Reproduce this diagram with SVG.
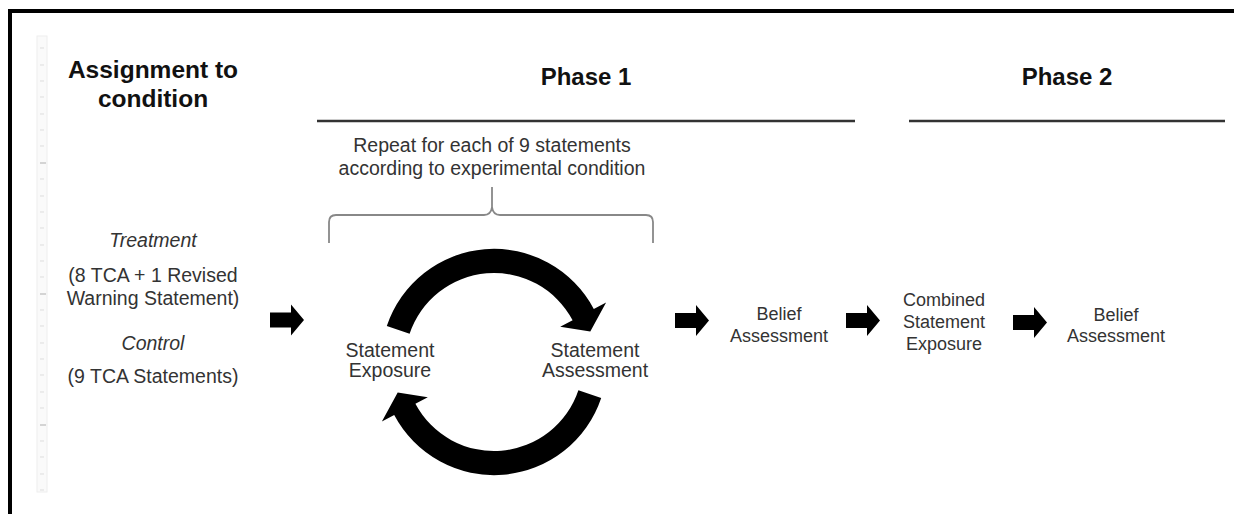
<svg xmlns="http://www.w3.org/2000/svg" width="1234" height="514" viewBox="0 0 1234 514">
  <style>
    .head { font-family: "Liberation Sans", Arial, sans-serif; font-weight: bold; fill: #111; text-anchor: middle; }
    .lbl { font-family: "Liberation Sans", Arial, sans-serif; fill: #333; text-anchor: middle; }
    .it { font-style: italic; }
    .rule { stroke: #333; stroke-width: 2.5; fill: none; }
    .brace { stroke: #888; stroke-width: 1.8; fill: none; }
    .blk { fill: #000; }
    .tick { stroke: #ddd; stroke-width: 1; }
    .tickm { stroke: #bbb; stroke-width: 1.2; }
  </style>
  <defs>
    <!-- right-pointing block arrow, origin at left edge / vertical centre -->
    <path id="blockArrow" d="M0,-7.5 L21,-7.5 L21,-15.5 L34,0 L21,15.5 L21,7.5 L0,7.5 Z"/>
  </defs>

  <rect width="1234" height="514" fill="#fff"/>

  <!-- frame -->
  <rect x="9" y="9" width="1225" height="4" fill="#000"/>
  <rect x="8" y="9" width="4" height="505" fill="#000"/>

  <!-- faint ruler strip -->
  <g id="ruler">
    <rect x="37" y="36" width="10" height="456" fill="#fafafa" stroke="#eee" stroke-width="1"/>
    <g class="tick">
      <line x1="40" y1="48" x2="44" y2="48"/><line x1="40" y1="65" x2="44" y2="65"/>
      <line x1="40" y1="81" x2="44" y2="81"/><line x1="40" y1="97" x2="44" y2="97"/>
      <line x1="40" y1="114" x2="44" y2="114"/><line x1="40" y1="130" x2="44" y2="130"/>
      <line x1="40" y1="146" x2="44" y2="146"/><line x1="40" y1="179" x2="44" y2="179"/>
      <line x1="40" y1="196" x2="44" y2="196"/><line x1="40" y1="212" x2="44" y2="212"/>
      <line x1="40" y1="228" x2="44" y2="228"/><line x1="40" y1="245" x2="44" y2="245"/>
      <line x1="40" y1="261" x2="44" y2="261"/><line x1="40" y1="277" x2="44" y2="277"/>
      <line x1="40" y1="310" x2="44" y2="310"/><line x1="40" y1="326" x2="44" y2="326"/>
      <line x1="40" y1="343" x2="44" y2="343"/><line x1="40" y1="359" x2="44" y2="359"/>
      <line x1="40" y1="375" x2="44" y2="375"/><line x1="40" y1="392" x2="44" y2="392"/>
      <line x1="40" y1="408" x2="44" y2="408"/><line x1="40" y1="441" x2="44" y2="441"/>
      <line x1="40" y1="457" x2="44" y2="457"/><line x1="40" y1="474" x2="44" y2="474"/>
      <line x1="40" y1="490" x2="44" y2="490"/>
    </g>
    <g class="tickm">
      <line x1="40" y1="163" x2="46" y2="163"/>
      <line x1="40" y1="294" x2="46" y2="294"/>
      <line x1="40" y1="425" x2="46" y2="425"/>
    </g>
  </g>

  <!-- column headings -->
  <g id="assignment">
    <text class="head" x="153" y="78" font-size="24.5">Assignment to</text>
    <text class="head" x="153" y="107" font-size="24.5">condition</text>
    <text class="lbl it" x="153" y="247" font-size="19.5">Treatment</text>
    <text class="lbl" x="153" y="282" font-size="19.5">(8 TCA + 1 Revised</text>
    <text class="lbl" x="153" y="305" font-size="19.5">Warning Statement)</text>
    <text class="lbl it" x="153" y="350" font-size="19.5">Control</text>
    <text class="lbl" x="153" y="383" font-size="19.5">(9 TCA Statements)</text>
  </g>

  <g id="phase1">
    <text class="head" x="586" y="85" font-size="24">Phase 1</text>
    <line class="rule" x1="317" y1="121" x2="855" y2="121"/>
  </g>

  <g id="phase2">
    <text class="head" x="1067" y="85" font-size="24">Phase 2</text>
    <line class="rule" x1="909" y1="121" x2="1225" y2="121"/>
  </g>

  <!-- repeat note with brace -->
  <g id="repeat">
    <text class="lbl" x="492" y="152" font-size="19.5">Repeat for each of 9 statements</text>
    <text class="lbl" x="492" y="175" font-size="19.5">according to experimental condition</text>
    <path class="brace" d="M329,243 L329,222 Q329,215 336,215 L484,215 Q491,215 492,207 L492,187 M492,207 Q493,215 500,215 L646,215 Q653,215 653,222 L653,243"/>
  </g>

  <!-- repeat cycle -->
  <g id="cycle">
    <path class="blk" d="M386.8,326.1 A113,113 0 0,1 593.8,308.9 L606.1,302.4 L590.3,331.6 L560.2,326.8 L572.6,320.2 A89,89 0 0,0 409.6,333.8 Z"/>
    <path class="blk" d="M601.2,397.9 A113,113 0 0,1 394.2,415.1 L381.9,421.6 L397.7,392.4 L427.8,397.2 L415.4,403.8 A89,89 0 0,0 578.4,390.2 Z"/>
  </g>

  <g id="exposure">
    <text class="lbl" x="390" y="357" font-size="19.5">Statement</text>
    <text class="lbl" x="390" y="377" font-size="19.5">Exposure</text>
  </g>

  <g id="stmtAssessment">
    <text class="lbl" x="595" y="357" font-size="19.5">Statement</text>
    <text class="lbl" x="595" y="377" font-size="19.5">Assessment</text>
  </g>

  <g id="belief1">
    <text class="lbl" x="779" y="320" font-size="18">Belief</text>
    <text class="lbl" x="779" y="342" font-size="18">Assessment</text>
  </g>

  <g id="combined">
    <text class="lbl" x="944" y="306" font-size="18">Combined</text>
    <text class="lbl" x="944" y="328" font-size="18">Statement</text>
    <text class="lbl" x="944" y="350" font-size="18">Exposure</text>
  </g>

  <g id="belief2">
    <text class="lbl" x="1116" y="321" font-size="18">Belief</text>
    <text class="lbl" x="1116" y="342" font-size="18">Assessment</text>
  </g>

  <!-- flow connectors -->
  <g id="connectors" class="blk">
    <use href="#blockArrow" transform="translate(270,320)"/>
    <use href="#blockArrow" transform="translate(675,320.5)"/>
    <use href="#blockArrow" transform="translate(846,320.5)"/>
    <use href="#blockArrow" transform="translate(1013,322.5)"/>
  </g>
</svg>
